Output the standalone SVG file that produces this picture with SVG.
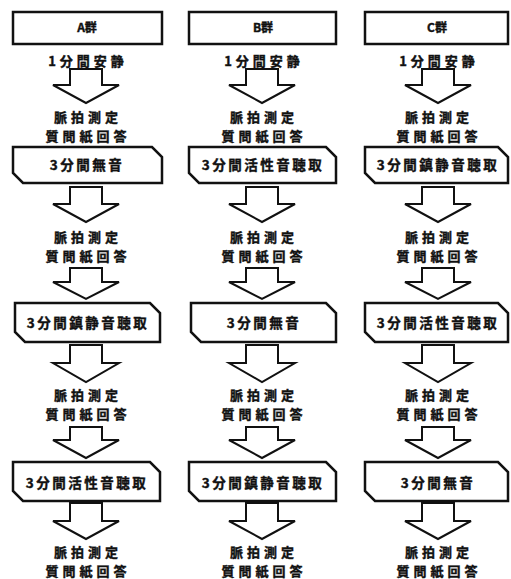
<svg xmlns="http://www.w3.org/2000/svg" width="511" height="579" viewBox="0 0 511 579">
<style>
.box{fill:#fff;stroke:#111;stroke-width:2.5;stroke-linejoin:miter}
.arr{fill:#fff;stroke:#111;stroke-width:2;stroke-linejoin:miter}
text{font-family:"Noto Sans CJK JP","Noto Sans CJK SC",sans-serif;font-weight:700;fill:#111;stroke:#111;stroke-width:0.4;text-anchor:middle}
.t{font-size:13.5px;letter-spacing:2.5px}
.m{font-size:13px;letter-spacing:4px}
.h{font-size:12px}
</style>
<rect width="511" height="579" fill="#fff"/>
<g id="connectors">
<path class="arr" d="M70,69 H102 V85 H119 L86,103 L53,85 H70 Z"/>
<path class="arr" d="M70,187 H102 V204 H119 L86,222 L53,204 H70 Z"/>
<path class="arr" d="M70,268 H102 V282 H119 L86,299 L53,282 H70 Z"/>
<path class="arr" d="M70,345 H102 V363 H119 L86,382 L53,363 H70 Z"/>
<path class="arr" d="M70,427 H102 V440 H119 L86,458 L53,440 H70 Z"/>
<path class="arr" d="M70,503 H102 V521 H119 L86,539 L53,521 H70 Z"/>
<path class="arr" d="M246,69 H278 V85 H295 L262,103 L229,85 H246 Z"/>
<path class="arr" d="M246,187 H278 V204 H295 L262,222 L229,204 H246 Z"/>
<path class="arr" d="M246,268 H278 V282 H295 L262,299 L229,282 H246 Z"/>
<path class="arr" d="M246,345 H278 V363 H295 L262,382 L229,363 H246 Z"/>
<path class="arr" d="M246,427 H278 V440 H295 L262,458 L229,440 H246 Z"/>
<path class="arr" d="M246,503 H278 V521 H295 L262,539 L229,521 H246 Z"/>
<path class="arr" d="M422,69 H454 V85 H471 L438,103 L405,85 H422 Z"/>
<path class="arr" d="M422,187 H454 V204 H471 L438,222 L405,204 H422 Z"/>
<path class="arr" d="M422,268 H454 V282 H471 L438,299 L405,282 H422 Z"/>
<path class="arr" d="M422,345 H454 V363 H471 L438,382 L405,363 H422 Z"/>
<path class="arr" d="M422,427 H454 V440 H471 L438,458 L405,440 H422 Z"/>
<path class="arr" d="M422,503 H454 V521 H471 L438,539 L405,521 H422 Z"/>
</g>
<g id="a-head"><rect class="box" x="13" y="12" width="149" height="32"/><text class="h" x="87" y="32">A群</text></g>
<g id="a-rest"><text class="m" x="88" y="66">1分間安静</text></g>
<g id="a-m1"><text class="m"><tspan x="88" y="121.5">脈拍測定</tspan><tspan x="88" y="140.5">質問紙回答</tspan></text></g>
<g id="a-s1"><path class="box" d="M13,147 H152 L162,157 V183 H23 L13,173 Z"/><text class="t" x="87" y="170">3分間無音</text></g>
<g id="a-m2"><text class="m"><tspan x="88" y="241.5">脈拍測定</tspan><tspan x="88" y="260.5">質問紙回答</tspan></text></g>
<g id="a-s2"><path class="box" d="M15,303 H150 L160,313 V342 H25 L15,332 Z"/><text class="t" x="88" y="328">3分間鎮静音聴取</text></g>
<g id="a-m3"><text class="m"><tspan x="88" y="399.5">脈拍測定</tspan><tspan x="88" y="418.5">質問紙回答</tspan></text></g>
<g id="a-s3"><path class="box" d="M13,462 H150 L160,472 V501 H23 L13,491 Z"/><text class="t" x="87" y="488">3分間活性音聴取</text></g>
<g id="a-m4"><text class="m"><tspan x="88" y="556.5">脈拍測定</tspan><tspan x="88" y="575.5">質問紙回答</tspan></text></g>
<g id="b-head"><rect class="box" x="189" y="12" width="147" height="32"/><text class="h" x="263" y="32">B群</text></g>
<g id="b-rest"><text class="m" x="264" y="66">1分間安静</text></g>
<g id="b-m1"><text class="m"><tspan x="264" y="121.5">脈拍測定</tspan><tspan x="264" y="140.5">質問紙回答</tspan></text></g>
<g id="b-s1"><path class="box" d="M189,147 H326 L336,157 V183 H199 L189,173 Z"/><text class="t" x="263" y="170">3分間活性音聴取</text></g>
<g id="b-m2"><text class="m"><tspan x="264" y="241.5">脈拍測定</tspan><tspan x="264" y="260.5">質問紙回答</tspan></text></g>
<g id="b-s2"><path class="box" d="M191,303 H326 L336,313 V342 H201 L191,332 Z"/><text class="t" x="264" y="328">3分間無音</text></g>
<g id="b-m3"><text class="m"><tspan x="264" y="399.5">脈拍測定</tspan><tspan x="264" y="418.5">質問紙回答</tspan></text></g>
<g id="b-s3"><path class="box" d="M189,462 H326 L336,472 V501 H199 L189,491 Z"/><text class="t" x="263" y="488">3分間鎮静音聴取</text></g>
<g id="b-m4"><text class="m"><tspan x="264" y="556.5">脈拍測定</tspan><tspan x="264" y="575.5">質問紙回答</tspan></text></g>
<g id="c-head"><rect class="box" x="365" y="12" width="143" height="32"/><text class="h" x="437" y="32">C群</text></g>
<g id="c-rest"><text class="m" x="439" y="66">1分間安静</text></g>
<g id="c-m1"><text class="m"><tspan x="439" y="121.5">脈拍測定</tspan><tspan x="439" y="140.5">質問紙回答</tspan></text></g>
<g id="c-s1"><path class="box" d="M365,147 H498 L508,157 V183 H375 L365,173 Z"/><text class="t" x="438" y="170">3分間鎮静音聴取</text></g>
<g id="c-m2"><text class="m"><tspan x="439" y="241.5">脈拍測定</tspan><tspan x="439" y="260.5">質問紙回答</tspan></text></g>
<g id="c-s2"><path class="box" d="M365,303 H498 L508,313 V342 H375 L365,332 Z"/><text class="t" x="438" y="328">3分間活性音聴取</text></g>
<g id="c-m3"><text class="m"><tspan x="439" y="399.5">脈拍測定</tspan><tspan x="439" y="418.5">質問紙回答</tspan></text></g>
<g id="c-s3"><path class="box" d="M365,462 H498 L508,472 V501 H375 L365,491 Z"/><text class="t" x="438" y="488">3分間無音</text></g>
<g id="c-m4"><text class="m"><tspan x="439" y="556.5">脈拍測定</tspan><tspan x="439" y="575.5">質問紙回答</tspan></text></g>
</svg>
